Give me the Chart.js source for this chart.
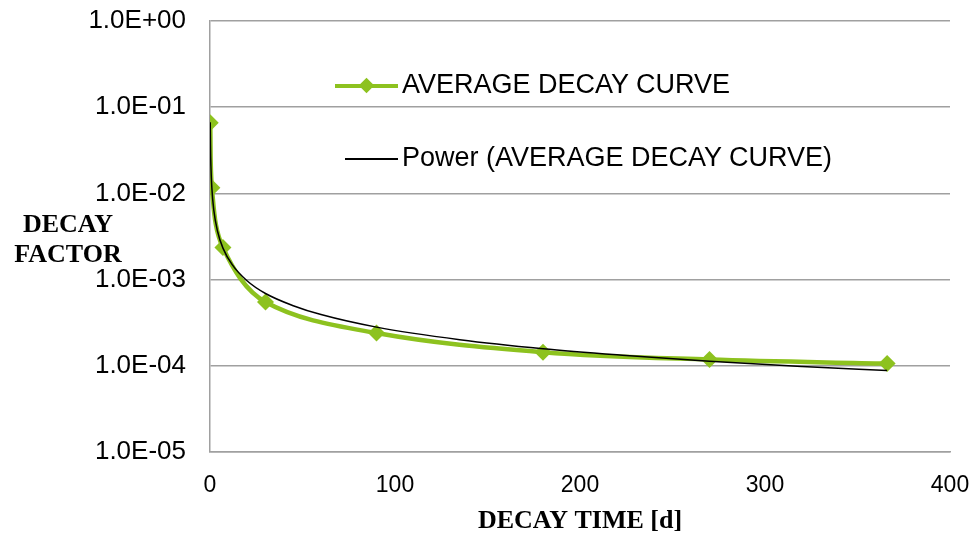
<!DOCTYPE html>
<html>
<head>
<meta charset="utf-8">
<script src="https://cdn.jsdelivr.net/npm/chart.js@4.4.1/dist/chart.umd.min.js"></script>
<style>
  body { margin: 0; background: #fff; }
  .wrap { position: relative; width: 980px; height: 537px; }
  .ytitle { position: absolute; left: 6px; top: 209px; width: 124px; text-align: center;
    font: bold 26px "Liberation Serif", "Times New Roman", serif; line-height: 30px; color: #000; }
  .leg { position: absolute; font: 27px "Liberation Sans", Arial, sans-serif; color: #000; white-space: nowrap; }
  .leg span.sw { position: absolute; }
</style>
</head>
<body>
<div class="wrap">
  <canvas id="chart-line" width="980" height="537"></canvas>
  <div class="ytitle">DECAY<br>FACTOR</div>
  <div class="leg" style="left:335px; top:69px;">
    <span class="sw" style="left:0; top:15px; width:63px; height:4px; background:#8DC21F;"></span>
    <span class="sw" style="left:26px; top:11px; width:11px; height:11px; background:#8DC21F; transform:rotate(45deg);"></span>
    <span style="margin-left:67px;">AVERAGE DECAY CURVE</span>
  </div>
  <div class="leg" style="left:345px; top:142px;">
    <span class="sw" style="left:0; top:16px; width:53px; height:1.5px; background:#000;"></span>
    <span style="margin-left:57px;">Power (AVERAGE DECAY CURVE)</span>
  </div>
</div>
<script>
// average decay curve
const decayDays = [0.12, 1, 7, 30, 90, 180, 270, 366];
const decayFactor = [6.6e-2, 1.16e-2, 2.35e-3, 5.5e-4, 2.4e-4, 1.44e-4, 1.18e-4, 1.06e-4];

// power trend line
const trendDays = [0.12, 0.25, 0.5, 1, 2, 4, 7, 12, 20, 30, 45, 60, 90, 135, 180, 225, 270, 320, 366];
const trendFactor = [6.7e-2, 3.65e-2, 2.06e-2, 1.16e-2, 6.54e-3, 3.69e-3, 2.32e-3, 1.49e-3, 9.7e-4,
  6.9e-4, 4.98e-4, 3.93e-4, 2.81e-4, 2.01e-4, 1.58e-4, 1.32e-4, 1.13e-4, 9.84e-5, 8.8e-5];

const yTickValues = [1e-5, 1e-4, 1e-3, 1e-2, 1e-1, 1];
const yTickLabels = ["1.0E-05", "1.0E-04", "1.0E-03", "1.0E-02", "1.0E-01", "1.0E+00"];
const xTickValues = [0, 100, 200, 300, 400];

const green = "#8DC21F";

var ctx1 = document.getElementById("chart-line").getContext("2d");
new Chart(ctx1, {
  type: "line",
  data: {
    datasets: [
      {
        label: "AVERAGE DECAY CURVE",
        data: decayDays.map((d, i) => ({ x: d, y: decayFactor[i] })),
        borderColor: green,
        backgroundColor: green,
        borderWidth: 4.5,
        pointStyle: "rectRot",
        pointRadius: 8.5,
        pointBorderWidth: 0,
        tension: 0.35,
        fill: false,
        order: 2,
      },
      {
        label: "Power (AVERAGE DECAY CURVE)",
        data: trendDays.map((d, i) => ({ x: d, y: trendFactor[i] })),
        borderColor: "#000",
        borderWidth: 1.5,
        pointRadius: 0,
        cubicInterpolationMode: "monotone",
        fill: false,
        order: 1,
      },
    ],
  },
  options: {
    responsive: false,
    animation: false,
    layout: { padding: { top: 21, right: 30, left: 0, bottom: 0 } },
    plugins: {
      legend: { display: false },
      tooltip: { enabled: false },
    },
    scales: {
      x: {
        type: "linear",
        min: 0,
        max: 400,
        afterBuildTicks: (scale) => {
          scale.ticks = xTickValues.map((v) => ({ value: v }));
        },
        afterFit: (scale) => {
          scale.height = 537 - 452;
          scale.paddingLeft = 0;
          scale.paddingRight = 0;
        },
        grid: { display: false, drawTicks: false },
        border: { display: true, color: "#a0a0a0", width: 1.5 },
        ticks: { color: "#000", padding: 20, font: { size: 23, family: "Liberation Sans" }, maxRotation: 0 },
        title: {
          display: true,
          text: "DECAY TIME [d]",
          color: "#000",
          font: { size: 26, weight: "bold", family: "Liberation Serif" },
          padding: { top: 7, bottom: 0 },
        },
      },
      y: {
        type: "logarithmic",
        min: 1e-5,
        max: 1,
        afterBuildTicks: (scale) => {
          scale.ticks = yTickValues.map((v) => ({ value: v }));
        },
        afterFit: (scale) => {
          scale.width = 210;
          scale.paddingTop = 0;
          scale.paddingBottom = 0;
        },
        grid: { color: "#a0a0a0", lineWidth: 1.5, drawTicks: false },
        border: { display: true, color: "#a0a0a0", width: 1.5 },
        ticks: {
          color: "#000",
          padding: 24,
          font: { size: 26, family: "Liberation Sans", lineHeight: 1 },
          callback: (v) => {
            const i = yTickValues.findIndex((t) => Math.abs(Math.log10(t) - Math.log10(v)) < 1e-6);
            return i >= 0 ? yTickLabels[i] : "";
          },
        },
      },
    },
  },
});
</script>
</body>
</html>
